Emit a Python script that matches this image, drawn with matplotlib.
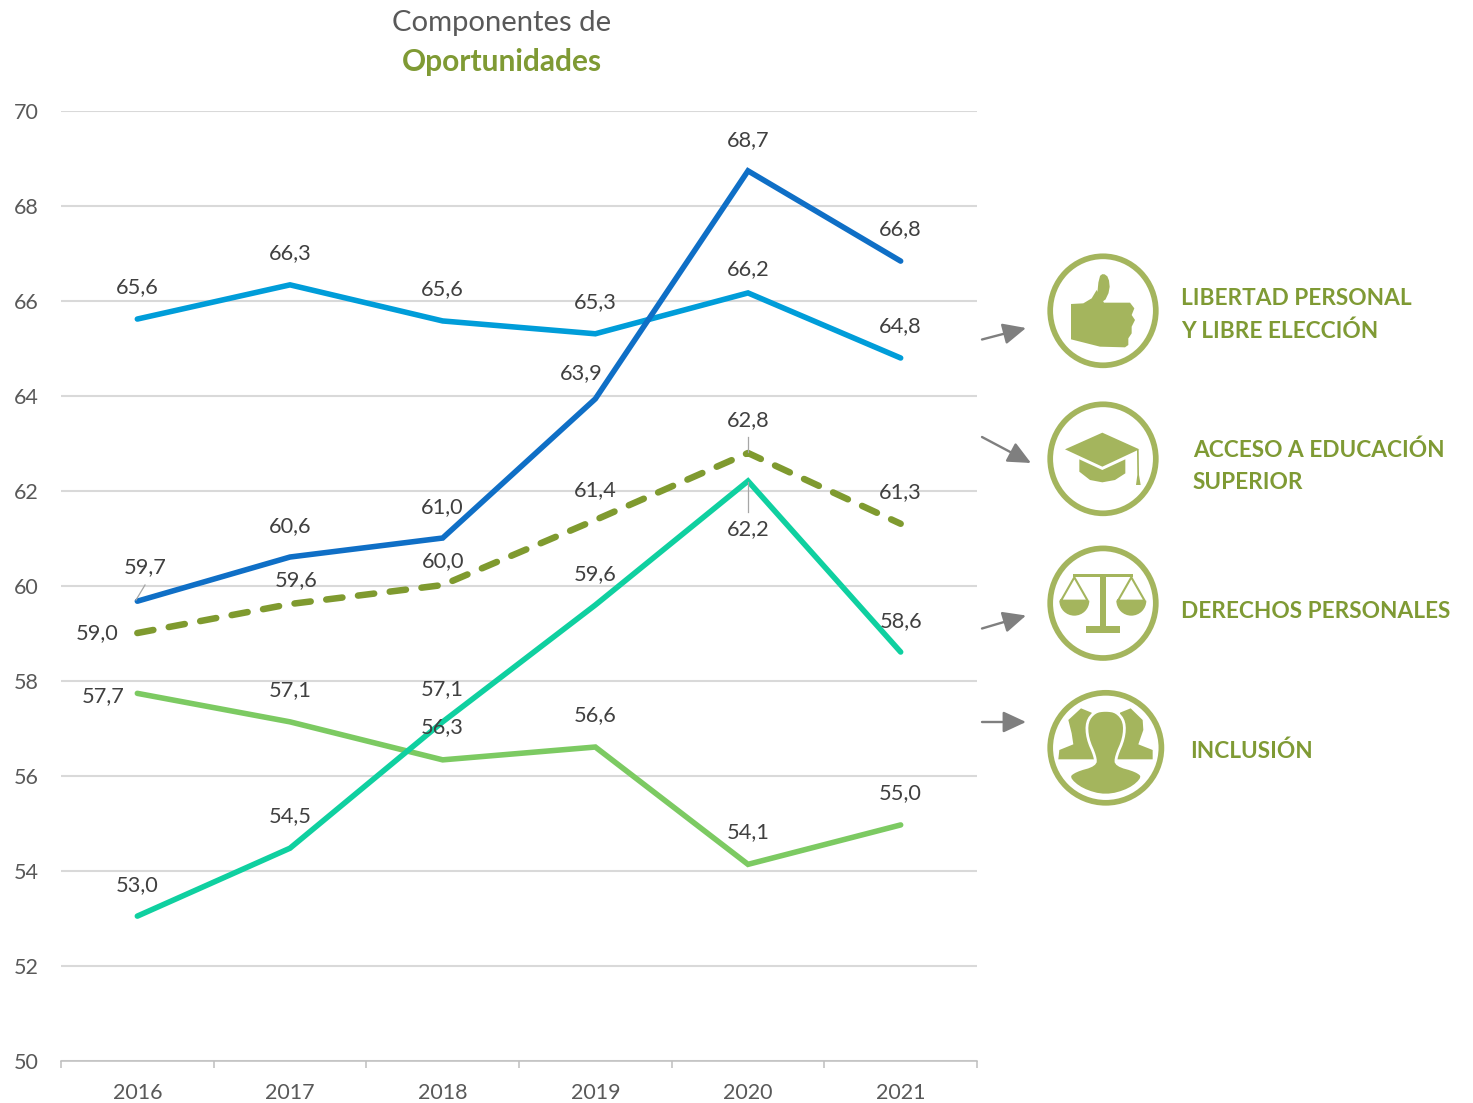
import matplotlib
matplotlib.use("Agg")
import matplotlib.pyplot as plt
from matplotlib.patches import Polygon, Ellipse, Wedge, FancyArrowPatch

plt.rcParams['font.family'] = ['Lato', 'DejaVu Sans']

years = ['2016', '2017', '2018', '2019', '2020', '2021']
libertad = [59.68, 60.61, 61.01, 63.94, 68.74, 66.84]
derechos = [65.62, 66.34, 65.58, 65.31, 66.17, 64.80]
oportunidades = [59.01, 59.62, 60.02, 61.39, 62.80, 61.31]
acceso = [53.05, 54.48, 57.14, 59.60, 62.21, 58.61]
inclusion = [57.74, 57.14, 56.34, 56.61, 54.14, 54.97]

title_top = 'Componentes de'
title_bottom = 'Oportunidades'
legend_labels = ['LIBERTAD PERSONAL\nY LIBRE ELECCIÓN', 'ACCESO A EDUCACIÓN\nSUPERIOR',
                 'DERECHOS PERSONALES', 'INCLUSIÓN']

W, H = 1473, 1103
PX = 0.72
GRAY = '#595959'
LABEL = '#404040'
OLIVE = '#7f9a34'
ICON = '#a4b55d'
ARROW = '#7f7f7f'

fig = plt.figure(figsize=(W / 100, H / 100), dpi=100, facecolor='white')
ax = fig.add_axes([61 / W, 1 - 1061 / H, (977 - 61) / W, (1061 - 111) / H])
ax.set_xlim(-0.5, 5.5)
ax.set_ylim(50, 70)
ax.set_yticks(range(50, 71, 2))
ax.grid(axis='y', color='#d9d9d9', lw=1.5)
ax.set_axisbelow(True)
for s in ('top', 'right', 'left'):
    ax.spines[s].set_visible(False)
ax.spines['bottom'].set_color('#bfbfbf')
ax.spines['bottom'].set_linewidth(1.1)
ax.set_xticks(range(6))
ax.set_xticklabels(years)
ax.set_xticks([i - 0.5 for i in range(7)], minor=True)
ax.tick_params(axis='x', which='major', length=0, pad=16, labelsize=15.5, labelcolor=GRAY)
ax.tick_params(axis='x', which='minor', length=5, color='#bfbfbf', width=1.1)
ax.tick_params(axis='y', length=0, pad=16, labelsize=15.5, labelcolor=GRAY)

xs = list(range(6))
series = [
    (derechos, '#009dd9', [(0, 32), (0, 32), (0, 32), (0, 32), (0, 24), (0, 32)]),
    (libertad, '#0f6fc6', [(8, 34), (0, 31), (0, 31), (-14, 26), (0, 31), (0, 32)]),
    (inclusion, '#7cca62', [(-34, -3), (0, 32), (0, 33), (0, 32), (0, 32), (0, 32)]),
    (acceso, '#0fd0a0', [(0, 31), (0, 32), (0, 33), (0, 31), (0, -48), (0, 31)]),
    (oportunidades, '#7f9a2f', [(-40, 0), (6, 24), (0, 24), (0, 30), (0, 33), (0, 32)]),
]
for vals, color, offs in series:
    if vals is oportunidades:
        ax.plot(xs, vals, color=color, lw=4.7, dashes=(2.5, 2.4), dash_capstyle='round', zorder=4)
    else:
        ax.plot(xs, vals, color=color, lw=4.0, solid_capstyle='round', solid_joinstyle='miter', zorder=3)
    for x, v, (dx, dy) in zip(xs, vals, offs):
        ax.annotate(f'{v:.1f}'.replace('.', ','), (x, v), xytext=(dx * PX, dy * PX),
                    textcoords='offset points', ha='center', va='center',
                    fontsize=15.7, color=LABEL, zorder=6)

# Overlay in pixel coordinates for title, icons and arrows
ov = fig.add_axes([0, 0, 1, 1], facecolor='none')
ov.set_xlim(0, W)
ov.set_ylim(H, 0)
ov.axis('off')

ov.text(502, 23, title_top, ha='center', va='center', fontsize=21.1, color=GRAY)
ov.text(502, 62, title_bottom, ha='center', va='center', fontsize=21.5, color=OLIVE, fontweight='bold')

# leader lines
for (x0, y0, x1, y1) in [(136, 600, 145, 585), (748, 437, 748, 452), (748, 482, 748, 512)]:
    ov.plot([x0, x1], [y0, y1], color='#a6a6a6', lw=0.9, zorder=5)

# arrows
for (x0, y0, x1, y1) in [(982, 339.5, 1026, 328), (982, 437, 1031, 463),
                         (982, 628.5, 1026, 615.5), (982, 722, 1026, 722)]:
    ov.add_patch(FancyArrowPatch((x0, y0), (x1, y1), arrowstyle='-|>,head_length=14,head_width=6.5',
                                 mutation_scale=1, color=ARROW, lw=1.7, shrinkA=0, shrinkB=0))

# legend text
ltext = [(1181, 315, legend_labels[0]), (1193, 466, legend_labels[1]),
         (1181, 612, legend_labels[2]), (1190, 751, legend_labels[3])]
for x, y, s in ltext:
    ov.text(x, y, s, ha='left', va='center', fontsize=16.3, fontweight='bold', color=OLIVE, linespacing=1.63)


def zpts(points, oy):
    return [(980 + px / 3, oy + py / 3) for px, py in points]


def smooth(points, n=2):
    """Corner-cutting for a closed outline."""
    for _ in range(n):
        out = []
        for i, (x0, y0) in enumerate(points):
            x1, y1 = points[(i + 1) % len(points)]
            out += [(0.75 * x0 + 0.25 * x1, 0.75 * y0 + 0.25 * y1),
                    (0.25 * x0 + 0.75 * x1, 0.25 * y0 + 0.75 * y1)]
        points = out
    return points


# Icon rings
for cx, cy, rx, ry in [(1103, 310.8, 52.8, 54.5), (1103, 458.8, 52.8, 54.5),
                       (1103, 603.2, 52.8, 54.8), (1105.8, 747.8, 55.6, 55)]:
    ov.add_patch(Ellipse((cx, cy), 2 * rx, 2 * ry, fill=False, ec=ICON, lw=4.1))

# Thumb
hand = smooth([(350, 178), (357, 110), (370, 100), (386, 112), (390, 150), (372, 188)], 1)
ov.add_patch(Polygon(zpts(hand, 240), fc=ICON, ec='none'))
ov.add_patch(Polygon(zpts([(273, 192), (310, 190), (335, 175), (350, 150), (372, 188), (450, 188), (463, 205),
                           (455, 225), (465, 240), (455, 260), (455, 280), (445, 295), (445, 315), (435, 322),
                           (360, 320), (273, 298)], 240), fc=ICON, ec='none'))
# Cap
ov.add_patch(Polygon(zpts([(255, 628), (367, 578), (478, 628), (367, 680)], 240), fc=ICON, ec='none'))
ov.add_patch(Polygon(zpts([(298, 658), (367, 690), (436, 658), (436, 700), (405, 720), (367, 727), (330, 720),
                           (298, 695)], 240), fc=ICON, ec='none'))
ov.add_patch(Polygon(zpts([(471, 630), (476, 630), (477, 705), (482, 735), (468, 735), (472, 705)], 240),
                     fc=ICON, ec='none'))

# Scales
ov.add_patch(Polygon(zpts([(278, 132), (460, 132), (460, 142), (278, 142)], 530), fc=ICON, ec='none'))
ov.add_patch(Polygon(zpts([(360, 142), (378, 142), (378, 288), (360, 288)], 530), fc=ICON, ec='none'))
ov.add_patch(Polygon(zpts([(318, 288), (420, 288), (420, 308), (318, 308)], 530), fc=ICON, ec='none'))
for c in (283, 454):
    cx, cy = zpts([(c, 212)], 530)[0]
    ov.add_patch(Wedge((cx, cy), 15, 0, 180, fc=ICON, ec='none'))
    ov.plot(*zip(*zpts([(c - 40, 212), (c, 142), (c + 40, 212), (c - 40, 212)], 530)),
            color=ICON, lw=1.5)

# People
back = [(235, 688), (238, 660), (280, 643), (275, 610), (265, 570), (303, 535), (335, 548), (340, 640), (345, 688)]
ov.add_patch(Polygon(zpts(back, 530), fc=ICON, ec='none'))
back_r = [(518, 688), (518, 660), (475, 643), (490, 600), (488, 570), (452, 535), (420, 548), (415, 640), (410, 688)]
ov.add_patch(Polygon(zpts(back_r, 530), fc=ICON, ec='none'))
front = [(377, 540), (410, 545), (434, 575), (432, 625), (408, 680), (408, 705), (470, 722), (492, 742), (450, 780),
         (377, 800), (305, 780), (262, 742), (285, 722), (346, 705), (346, 680), (322, 625), (320, 575), (344, 545)]
ov.add_patch(Polygon(zpts(smooth(front, 2), 530), fc=ICON, ec='white', lw=2.0))

fig.savefig('out.png', dpi=100)
